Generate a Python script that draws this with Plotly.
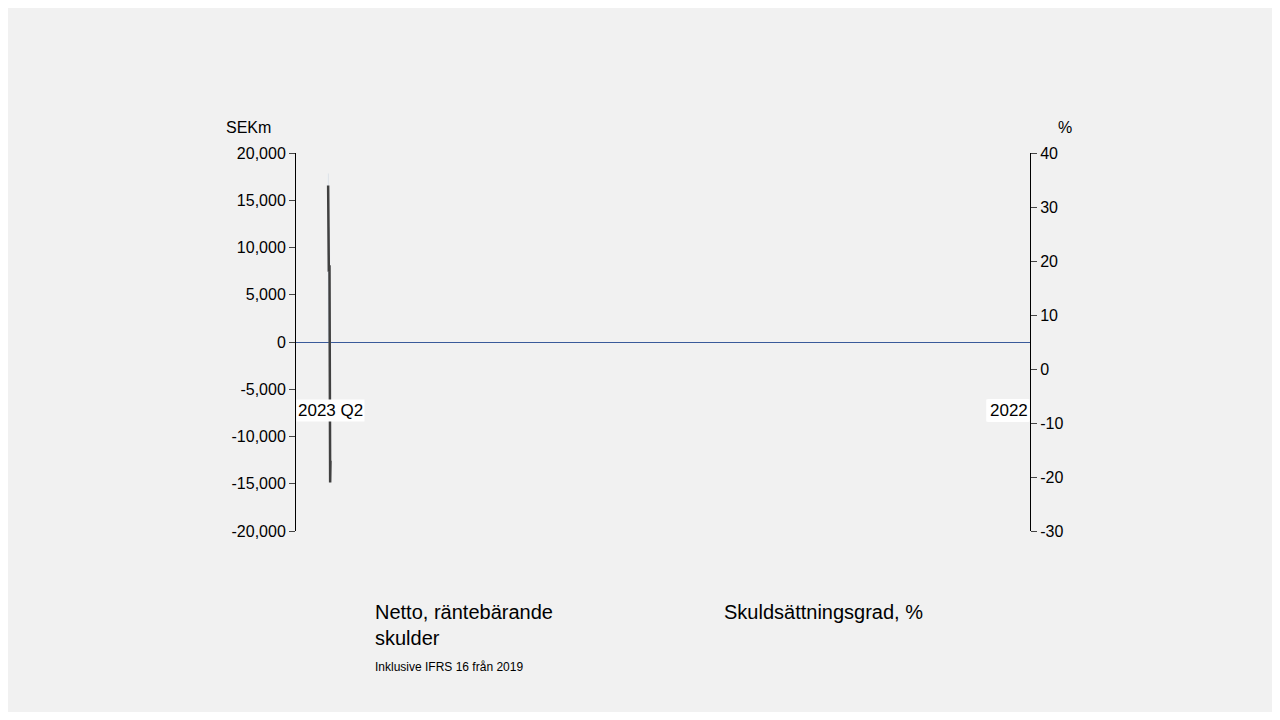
import plotly.graph_objects as go

categories = ["2016", "2017", "2018", "2019", "2020", "2021", "2022", "2023 Q2"]
net_debt = [17800, 11600, 10600, 12100, 10200, -2200, -14200, -11700]
gearing = [34, 22.4, 18, 19, 19, -2.6, -21, -17]
left_ticks = [20000, 15000, 10000, 5000, 0, -5000, -10000, -15000, -20000]
left_labels = ["20,000", "15,000", "10,000", "5,000", "0", "-5,000", "-10,000", "-15,000", "-20,000"]
right_ticks = [40, 30, 20, 10, 0, -10, -20, -30]
right_labels = ["40", "30", "20", "10", "0", "-10", "-20", "-30"]

fig = go.Figure()
fig.add_trace(go.Bar(x=categories, y=net_debt, marker_color="#808080", width=0.56, yaxis="y"))
fig.add_trace(go.Scatter(x=categories, y=gearing, mode="lines", line=dict(color="#404040", width=2.5), yaxis="y2"))

for c in categories:
    fig.add_annotation(x=c, y=-7300, yref="y", text=c, showarrow=False, bgcolor="white",
                       font=dict(family="Liberation Sans", size=17, color="black"))

ann_font = dict(family="Liberation Sans", color="black")
fig.add_annotation(xref="paper", yref="paper", x=-0.065, y=1.04, text="SEKm", showarrow=False, font=dict(size=16, **ann_font), xanchor="center", yanchor="bottom")
fig.add_annotation(xref="paper", yref="paper", x=1.06, y=1.04, text="%", showarrow=False, font=dict(size=16, **ann_font), yanchor="bottom")
fig.add_annotation(xref="paper", yref="paper", x=0.105, y=-0.18, text="Netto, räntebärande<br>skulder", align="left", xanchor="left", yanchor="top", showarrow=False, font=dict(size=20, **ann_font))
fig.add_annotation(xref="paper", yref="paper", x=0.58, y=-0.18, text="Skuldsättningsgrad, %", xanchor="left", yanchor="top", showarrow=False, font=dict(size=20, **ann_font))
fig.add_annotation(xref="paper", yref="paper", x=0.105, y=-0.335, text="Inklusive IFRS 16 från 2019", xanchor="left", yanchor="top", showarrow=False, font=dict(size=12, **ann_font))

fig.update_layout(
    width=1264, height=704, showlegend=False,
    paper_bgcolor="#f1f1f1", plot_bgcolor="#f1f1f1",
    margin=dict(l=288, r=242, t=145, b=181),
    font=dict(family="Liberation Sans", size=16, color="black"),
    xaxis=dict(type="category", showticklabels=False, showgrid=False, showline=False, ticks=""),
    yaxis=dict(range=[-20000, 20000], tickvals=left_ticks, ticktext=left_labels, showgrid=False,
               showline=True, linecolor="black", ticks="outside", ticklen=6,
               zeroline=True, zerolinecolor="#3a5a9a", zerolinewidth=1.2),
    yaxis2=dict(range=[-30, 40], tickvals=right_ticks, ticktext=right_labels, overlaying="y", side="right", showgrid=False,
                showline=True, linecolor="black", ticks="outside", ticklen=6, zeroline=False),
)
fig.write_html("out.html")
